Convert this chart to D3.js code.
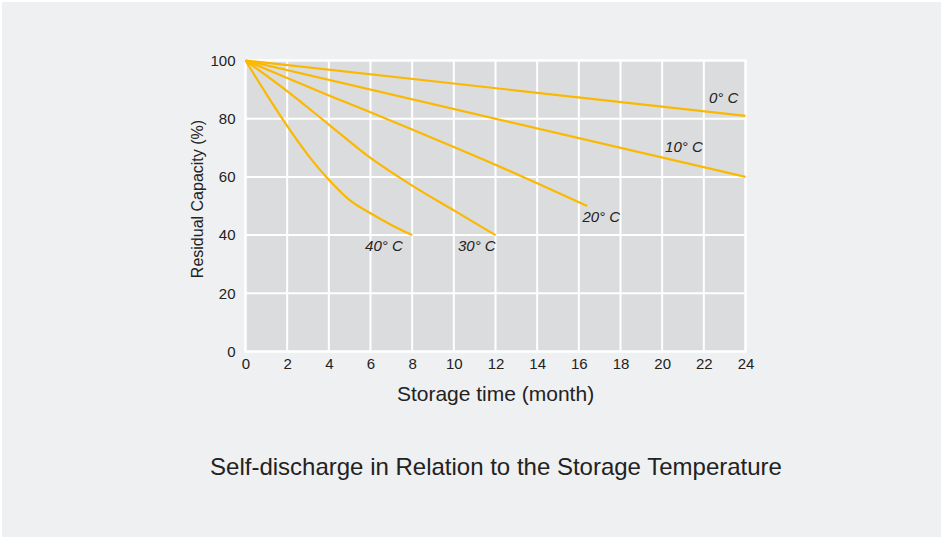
<!DOCTYPE html>
<html><head><meta charset="utf-8">
<script src="https://cdn.jsdelivr.net/npm/d3@7"></script>
<style>
html,body{margin:0;padding:0;background:#fff;}
svg{display:block;}
</style></head>
<body>
<svg id="c" width="943" height="539"></svg>
<script>
// ---- data ----
const xTicks = [0,2,4,6,8,10,12,14,16,18,20,22,24];
const yTicks = [0,20,40,60,80,100];
const seriesNames = ["0° C","10° C","20° C","30° C","40° C"];
const months0  = [0, 24];
const values0  = [100, 81];
const months10 = [0, 24];
const values10 = [100, 60];
const months20 = [0, 2, 4, 6, 8, 10, 12, 14, 16.4];
const values20 = [100, 94, 88, 82.2, 76.3, 70.3, 64.2, 57.8, 50];
const months30 = [0, 2, 4, 6, 8, 10, 12];
const values30 = [100, 89.5, 78, 66.5, 57, 48.5, 40];
const months40 = [0, 1, 2, 3, 4, 5, 6, 7, 8];
const values40 = [100, 88.5, 77.5, 67.5, 59, 52, 47.5, 43.5, 40];
const xTitle = "Storage time (month)";
const yTitle = "Residual Capacity (%)";
const chartTitle = "Self-discharge in Relation to the Storage Temperature";

const series = [
  {name: seriesNames[0], m: months0, v: values0, lx: 22.25, ly: 85.4, anchor:"start"},
  {name: seriesNames[1], m: months10, v: values10, lx: 20.14, ly: 68.7, anchor:"start"},
  {name: seriesNames[2], m: months20, v: values20, lx: 16.17, ly: 44.4, anchor:"start"},
  {name: seriesNames[3], m: months30, v: values30, lx: 12.01, ly: 34.5, anchor:"end"},
  {name: seriesNames[4], m: months40, v: values40, lx: 7.55, ly: 34.5, anchor:"end"}
];

const svg = d3.select("#c");
const W = 943, H = 539;
svg.append("rect").attr("x",2).attr("y",2).attr("width",W-4).attr("height",H-4).attr("fill","#eff0f2");

const x = d3.scaleLinear().domain([0,24]).range([245.5, 745.5]);
const y = d3.scaleLinear().domain([0,100]).range([351.5, 60.5]);

const g = svg.append("g");
g.append("rect").attr("x",x(0)).attr("y",y(100)).attr("width",x(24)-x(0)).attr("height",y(0)-y(100))
  .attr("fill","#dbdcde").attr("stroke","#fff").attr("stroke-width",2);

// grid
g.selectAll("line.vx").data(xTicks).enter().append("line")
  .attr("x1",d=>x(d)).attr("x2",d=>x(d)).attr("y1",y(0)).attr("y2",y(100))
  .attr("stroke","#fff").attr("stroke-width",2);
g.selectAll("line.hy").data(yTicks).enter().append("line")
  .attr("y1",d=>y(d)).attr("y2",d=>y(d)).attr("x1",x(0)).attr("x2",x(24))
  .attr("stroke","#fff").attr("stroke-width",2);

// axes via d3
const font = "'Liberation Sans', Arial, sans-serif";
const xAxis = g.append("g").attr("transform",`translate(0,${y(0)})`)
  .call(d3.axisBottom(x).tickValues(xTicks).tickSize(0).tickPadding(7));
const yAxis = g.append("g").attr("transform",`translate(${x(0)},0)`)
  .call(d3.axisLeft(y).tickValues(yTicks).tickSize(0).tickPadding(10));
[xAxis,yAxis].forEach(a=>{
  a.select(".domain").remove();
  a.selectAll("text").attr("font-family",font).attr("font-size",15).attr("fill","#222");
});

// lines
const line = d3.line().x(d=>x(d[0])).y(d=>y(d[1])).curve(d3.curveMonotoneX);
series.forEach(s=>{
  const pts = s.m.map((mm,i)=>[mm, s.v[i]]);
  g.append("path").attr("d",line(pts)).attr("fill","none")
    .attr("stroke","#fbb800").attr("stroke-width",2.2);
  g.append("text").attr("x",x(s.lx)).attr("y",y(s.ly)).attr("text-anchor",s.anchor)
    .attr("font-family",font).attr("font-size",15).attr("font-style","italic").attr("fill","#222")
    .text(s.name);
});

// titles
svg.append("text").attr("x",(x(0)+x(24))/2).attr("y",401).attr("text-anchor","middle")
  .attr("font-family",font).attr("font-size",21).attr("fill","#222").text(xTitle);
svg.append("text").attr("transform",`translate(203,199) rotate(-90)`).attr("text-anchor","middle")
  .attr("font-family",font).attr("font-size",16).attr("fill","#222").text(yTitle);
svg.append("text").attr("x",496).attr("y",475).attr("text-anchor","middle")
  .attr("font-family",font).attr("font-size",24).attr("fill","#222").text(chartTitle);
</script>
</body></html>
